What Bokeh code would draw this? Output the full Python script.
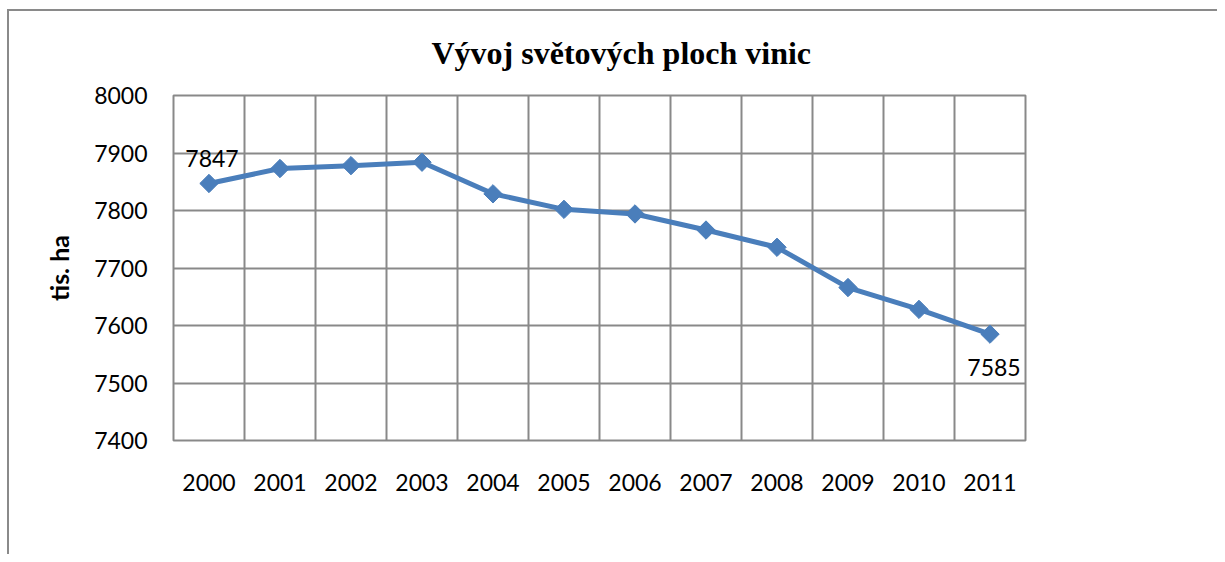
import math
from bokeh.plotting import figure
from bokeh.models import (ColumnDataSource, FixedTicker, Grid, Legend, LegendItem,
                          Range1d, Title, LabelSet)
from bokeh.core.properties import value
from bokeh.embed import file_html
from bokeh.resources import INLINE

years = ["2000", "2001", "2002", "2003", "2004", "2005", "2006", "2007", "2008", "2009", "2010", "2011"]
area = [7847, 7873, 7878, 7884, 7829, 7802, 7794, 7766, 7736, 7666, 7628, 7585]
y_ticks = [7400, 7500, 7600, 7700, 7800, 7900, 8000]
series_name = "Plocha vinic"
title_text = "Vývoj světových ploch vinic"
y_label = "tis. ha"

BLUE = "#4a7ebb"
GRID = "#898989"
FONT = "Lato"

xs = [i + 0.5 for i in range(len(years))]
src = ColumnDataSource(dict(x=xs, y=area, year=years))

p = figure(width=1210, height=545, output_backend="svg", toolbar_location=None,
           x_range=Range1d(0, len(years)), y_range=Range1d(7400, 8000),
           min_border_left=164, min_border_right=194, min_border_top=84, min_border_bottom=116)
p.title = None
p.styles = {"border-left": "2px solid #8a8a8a", "border-top": "2px solid #8a8a8a",
            "box-sizing": "border-box", "margin-left": "7px", "margin-top": "9px"}

p.add_layout(Title(text=title_text, text_font="Liberation Serif", text_font_size="32px",
                   text_font_style="bold", text_color="black", align="left",
                   vertical_align="top", offset=258, standoff=46), "above")

p.outline_line_color = GRID
p.outline_line_width = 2

# axes
p.xaxis.ticker = FixedTicker(ticks=xs)
p.xaxis.major_label_overrides = {x: y for x, y in zip(xs, years)}
p.yaxis.ticker = FixedTicker(ticks=y_ticks)
for ax in (p.xaxis[0], p.yaxis[0]):
    ax.axis_line_color = None
    ax.major_tick_line_color = None
    ax.minor_tick_line_color = None
    ax.major_label_text_font = FONT
    ax.major_label_text_font_size = "23px"
    ax.major_label_text_color = "black"
p.xaxis.major_label_standoff = 27
p.yaxis.major_label_standoff = 20
p.yaxis.axis_label = y_label
p.yaxis.axis_label_text_font = FONT
p.yaxis.axis_label_text_font_size = "25px"
p.yaxis.axis_label_text_font_style = "bold"
p.yaxis.axis_label_text_color = "black"
p.yaxis.axis_label_standoff = 17

# grids
p.xgrid.visible = False
p.ygrid.grid_line_color = GRID
p.ygrid.grid_line_width = 2
p.ygrid.grid_line_alpha = 1
vgrid = Grid(dimension=0, ticker=FixedTicker(ticks=list(range(len(years) + 1))),
             grid_line_color=GRID, grid_line_width=2)
p.add_layout(vgrid)

ln = p.line("x", "y", source=src, line_color=BLUE, line_width=5)
mk = p.scatter("x", "y", source=src, marker="square", angle=math.pi / 4, size=13,
               fill_color=BLUE, line_color=BLUE)

# data labels for first and last point
first = ColumnDataSource(dict(x=[xs[0]], y=[area[0]], t=[str(area[0])]))
last = ColumnDataSource(dict(x=[xs[-1]], y=[area[-1]], t=[str(area[-1])]))
p.add_layout(LabelSet(x="x", y="y", text="t", source=first, x_offset=3, y_offset=16,
                      text_align="center", text_baseline="bottom",
                      text_font=value(FONT), text_font_size=value("23px"), text_color="black"))
p.add_layout(LabelSet(x="x", y="y", text="t", source=last, x_offset=4, y_offset=-25,
                      text_align="center", text_baseline="top",
                      text_font=value(FONT), text_font_size=value("23px"), text_color="black"))

legend = Legend(items=[LegendItem(label=series_name, renderers=[ln, mk])],
                location=(865, 181), orientation="vertical",
                label_text_font=FONT, label_text_font_size="21px", label_text_color="black",
                glyph_width=52, glyph_height=22, label_standoff=5,
                padding=0, margin=0, spacing=0,
                border_line_color=None, background_fill_alpha=0)
p.add_layout(legend, "center")

open("out.html", "w").write(file_html(p, INLINE))
